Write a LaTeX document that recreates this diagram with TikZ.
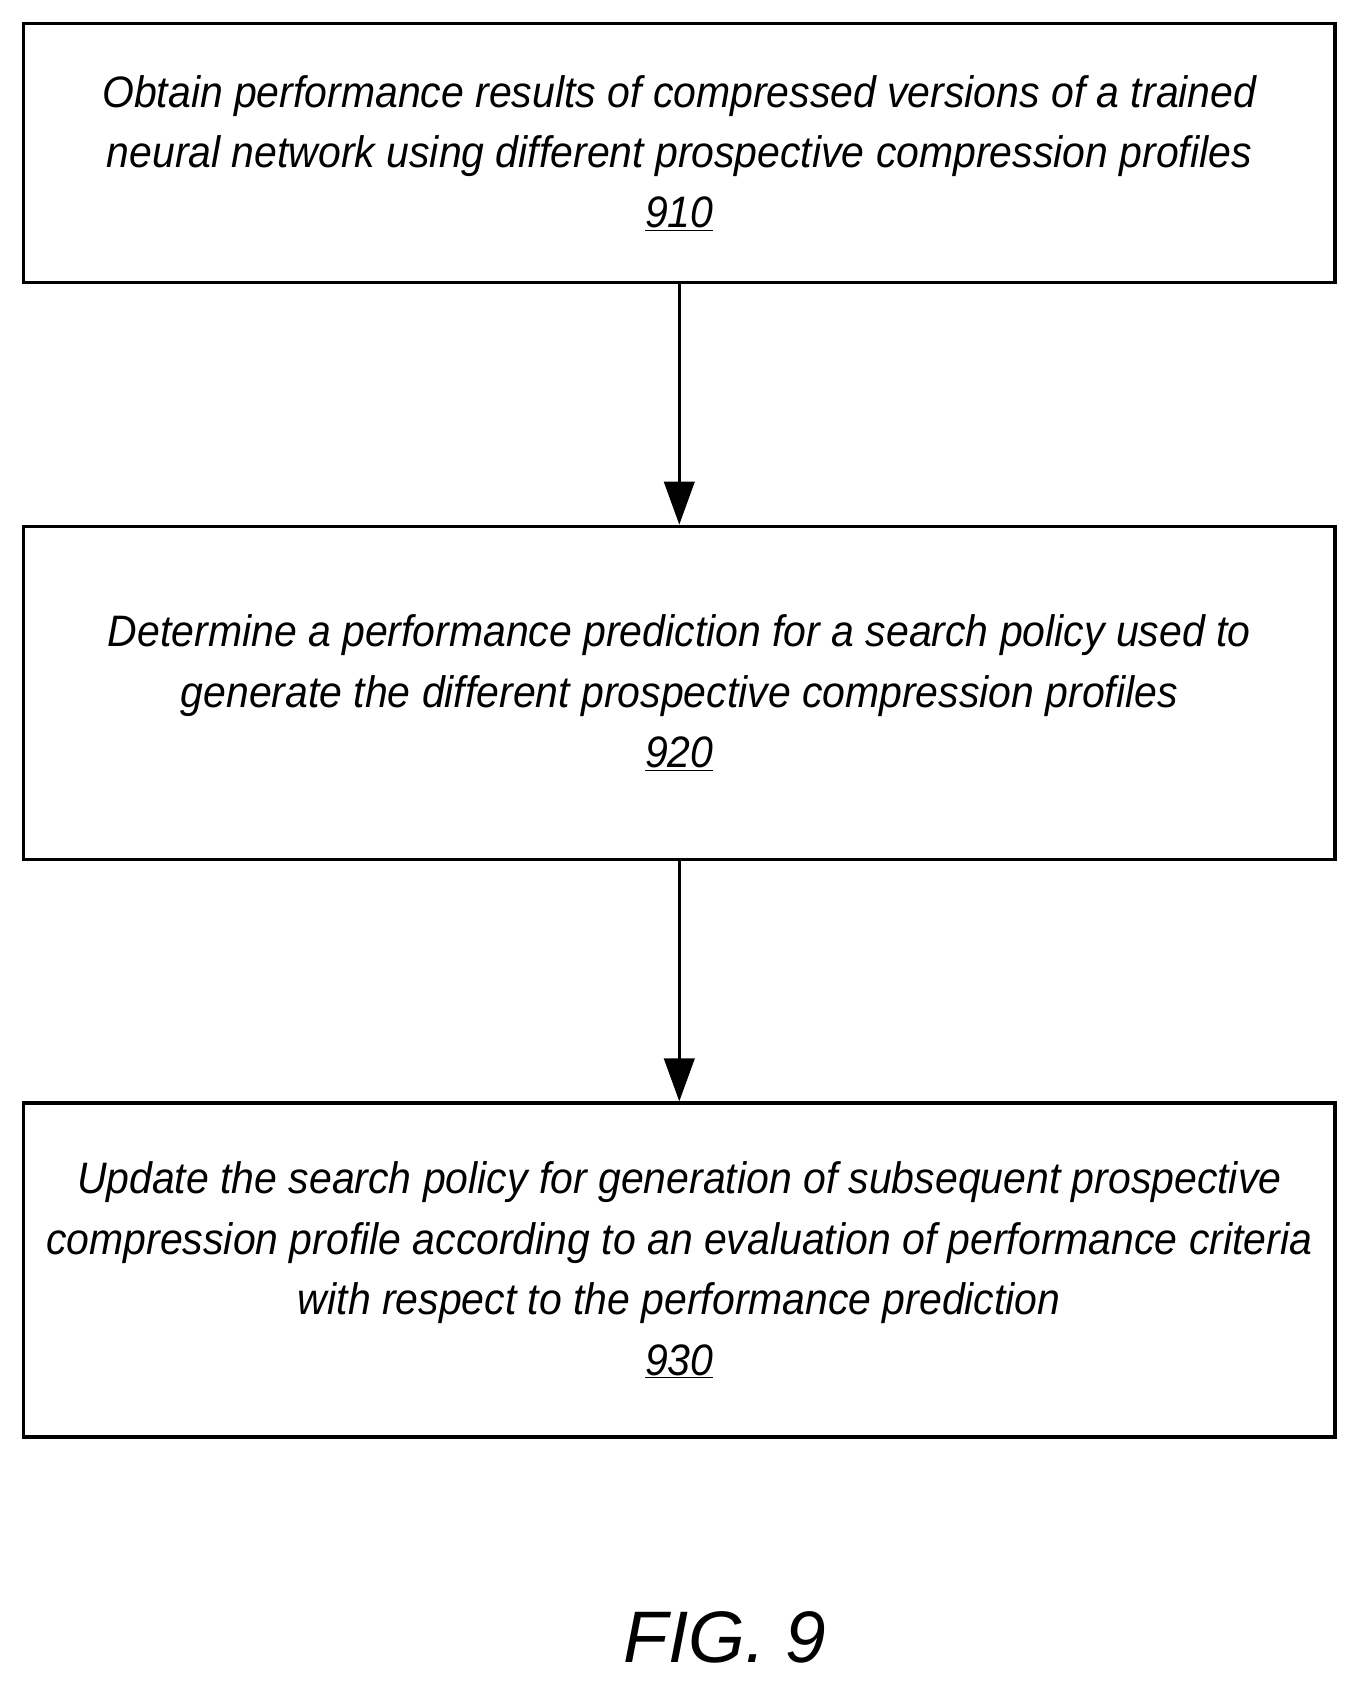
\documentclass[tikz,border=0pt]{standalone}
\usepackage{fontspec}
\setmainfont{Liberation Sans}[FakeStretch=0.93]
\newfontfamily\figfont{Liberation Sans}
\usetikzlibrary{positioning,arrows.meta}
\begin{document}
\begin{tikzpicture}[x=0.03cm,y=-0.03cm,
	stepbox/.style={draw,line width=2.6pt,minimum width=36.63cm,align=center,
		font=\fontsize{35}{48}\selectfont\itshape},
	flow/.style={-{Triangle[length=1.2cm,width=0.85cm]},line width=2.2pt}]
	\useasboundingbox (0,0) rectangle (1265,1568);
	\node[stepbox,minimum height=7.23cm] (s910) at (632.5,142.5) {Obtain performance results of compressed versions of a trained\\neural network using different prospective compression profiles\\\underline{910}};
	\node[stepbox,minimum height=9.3cm] (s920) at (632.5,645) {Determine a performance prediction for a search policy used to\\generate the different prospective compression profiles\\\underline{920}};
	\node[stepbox,minimum height=9.33cm] (s930) at (632.5,1182.5) {Update the search policy for generation of subsequent prospective\\compression profile according to an evaluation of performance criteria\\with respect to the performance prediction\\\underline{930}};
	\node[font=\figfont\fontsize{58}{64}\selectfont\itshape] (fig) at (675,1525) {FIG. 9};
	\draw[flow] (s910) -- (s920);
	\draw[flow] (s920) -- (s930);
\end{tikzpicture}
\end{document}
